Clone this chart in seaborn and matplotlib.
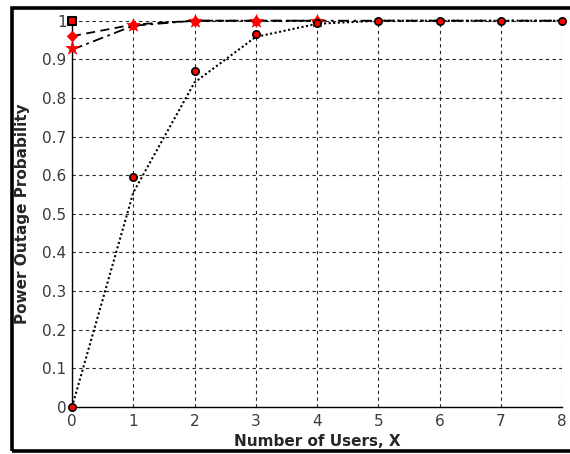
import matplotlib
matplotlib.use("Agg")
import matplotlib.pyplot as plt
import seaborn as sns
import pandas as pd
from matplotlib.patches import Rectangle

users = [0, 1, 2, 3, 4, 5, 6, 7, 8]
dashed_vals = [0.96, 0.99, 1.0, 1.0, 1.0]
dashdot_vals = [0.925, 0.987, 1.0, 1.0, 1.0, 1.0, 1.0, 1.0, 1.0]
star_vals = [0.93, 0.99, 1.0, 1.0, 1.0]
dotted_vals = [0.0, 0.555, 0.84, 0.958, 0.992, 1.0, 1.0, 1.0, 1.0]
circle_vals = [0.0, 0.595, 0.87, 0.966, 0.995, 1.0, 1.0, 1.0, 1.0]
square_x = [0]
square_vals = [1.0]
xticks = [0, 1, 2, 3, 4, 5, 6, 7, 8]
yticks = [0, 0.1, 0.2, 0.3, 0.4, 0.5, 0.6, 0.7, 0.8, 0.9, 1]
ytick_labels = ["0", "0.1", "0.2", "0.3", "0.4", "0.5", "0.6", "0.7", "0.8", "0.9", "1"]

sns.set_style("white")
plt.rcParams["font.family"] = ["DejaVu Sans"]

fig = plt.figure(figsize=(5.7, 4.54), dpi=100)
ax = fig.add_axes([72/570, 1-407/454, 490/570, (407-20.7)/454])

# frame around figure (right edge falls outside the image)
fig.patches.append(Rectangle((12/570, 1-451/454), 1.1, 443/454, transform=fig.transFigure,
                             fill=False, edgecolor="black", linewidth=2.6))

ax.grid(True, color="black", linestyle=(0, (3, 3)), linewidth=0.8, alpha=0.85)
ax.set_axisbelow(True)

df_dash = pd.DataFrame({"x": users[:len(dashed_vals)], "y": dashed_vals})
df_dd = pd.DataFrame({"x": users, "y": dashdot_vals})
df_star = pd.DataFrame({"x": users[:len(star_vals)], "y": star_vals})
df_dot = pd.DataFrame({"x": users, "y": dotted_vals})
df_circ = pd.DataFrame({"x": users, "y": circle_vals})
df_sq = pd.DataFrame({"x": square_x, "y": square_vals})

sns.lineplot(data=df_dash, x="x", y="y", ax=ax, color="black", linestyle=(0, (5, 3)),
             linewidth=1.3, marker="D", markersize=5, markerfacecolor="red",
             markeredgecolor="red", clip_on=False, zorder=3)
sns.lineplot(data=df_dd, x="x", y="y", ax=ax, color="black", linestyle=(0, (6, 2.5, 1.5, 2.5)),
             linewidth=1.3, clip_on=False, zorder=3)
sns.lineplot(data=df_dot, x="x", y="y", ax=ax, color="black", linestyle=(0, (1, 1.2)),
             linewidth=1.5, clip_on=False, zorder=3)
sns.scatterplot(data=df_star, x="x", y="y", ax=ax, marker="*", s=100, color="red",
                edgecolor="red", linewidth=0.5, clip_on=False, zorder=4)
sns.scatterplot(data=df_circ, x="x", y="y", ax=ax, marker="o", s=28, color="red",
                edgecolor="black", linewidth=1.2, clip_on=False, zorder=5)
sns.scatterplot(data=df_sq, x="x", y="y", ax=ax, marker="s", s=36, color="red",
                edgecolor="black", linewidth=1.5, clip_on=False, zorder=5)

ax.set_xlim(0, 8)
ax.set_ylim(0, 1)
ax.set_xticks(xticks)
ax.set_yticks(yticks)
ax.set_yticklabels(ytick_labels)
ax.tick_params(axis="both", direction="in", length=4, width=1, color="black",
               labelsize=11, labelcolor="#3a3a3a")
ax.tick_params(axis="x", pad=5)
ax.tick_params(axis="y", pad=4)
for s in ["top", "right"]:
    ax.spines[s].set_visible(False)
for s in ["left", "bottom"]:
    ax.spines[s].set_color("black")
    ax.spines[s].set_linewidth(1)

ax.set_xlabel("Number of Users, X", fontsize=11, fontweight="bold", labelpad=4)
ax.set_ylabel("Power Outage Probability", fontsize=11, fontweight="bold", labelpad=9)

fig.savefig("out.png", dpi=100)
